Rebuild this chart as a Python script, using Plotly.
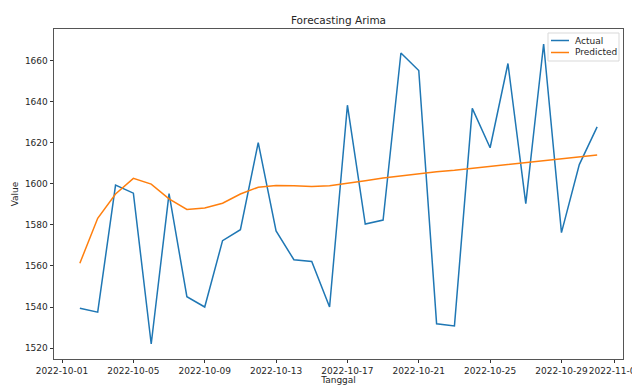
import plotly.graph_objects as go
import pandas as pd

dates = pd.date_range("2022-10-02", "2022-10-31", freq="D").strftime("%Y-%m-%d").tolist()

actual = [1539.4, 1537.5, 1599.3, 1595.4, 1522.0, 1595.2, 1545.0, 1540.0, 1572.3, 1577.6,
          1620.0, 1577.0, 1563.0, 1562.2, 1540.0, 1638.2, 1580.4, 1582.3, 1663.6, 1655.1,
          1531.8, 1530.8, 1636.7, 1617.5, 1658.5, 1590.3, 1668.0, 1576.2, 1609.3, 1627.7]

predicted = [1561.3, 1583.2, 1595.0, 1602.6, 1599.8, 1592.6, 1587.5, 1588.2, 1590.5, 1595.0,
             1598.3, 1599.1, 1599.0, 1598.7, 1599.0, 1600.1, 1601.5, 1602.8, 1603.9, 1605.0,
             1605.8, 1606.5, 1607.4, 1608.4, 1609.3, 1610.3, 1611.2, 1612.2, 1613.1, 1614.0]

x_tick_vals = ["2022-10-01", "2022-10-05", "2022-10-09", "2022-10-13", "2022-10-17",
               "2022-10-21", "2022-10-25", "2022-10-29", "2022-11-01"]
y_tick_vals = [1520, 1540, 1560, 1580, 1600, 1620, 1640, 1660]

series_names = ["Actual", "Predicted"]
series_colors = ["#1f77b4", "#ff7f0e"]

FONT = "DejaVu Sans"
TXT = "#262626"
W, H = 632, 385
ML, MR, MT, MB = 54, 9, 29, 26
PW, PH = W - ML - MR, H - MT - MB


def px_x(px):
    return (px - ML) / PW


def px_y(py):
    return 1 - (py - MT) / PH


fig = go.Figure()
for name, vals, col in zip(series_names, [actual, predicted], series_colors):
    fig.add_trace(go.Scatter(x=dates, y=vals, mode="lines", name=name,
                             line=dict(color=col, width=1.5), showlegend=False))

lo = min(min(actual), min(predicted))
hi = max(max(actual), max(predicted))
pad = (hi - lo) * 0.05
x0 = pd.Timestamp(dates[0])
x1 = pd.Timestamp(dates[-1])
xpad = (x1 - x0) * 0.05

shapes = [dict(type="rect", xref="paper", yref="paper",
               x0=px_x(548), x1=px_x(619), y0=px_y(61), y1=px_y(33),
               line=dict(color="#d9d9d9", width=1), fillcolor="rgba(255,255,255,0.8)",
               layer="above")]
annotations = []
for i, (name, col) in enumerate(zip(series_names, series_colors)):
    yy = 40.5 + 12 * i
    shapes.append(dict(type="line", xref="paper", yref="paper",
                       x0=px_x(551), x1=px_x(569), y0=px_y(yy), y1=px_y(yy),
                       line=dict(color=col, width=1.5), layer="above"))
    annotations.append(dict(text=name, xref="paper", yref="paper",
                            x=px_x(573), y=px_y(yy), xanchor="left", yanchor="middle",
                            showarrow=False, font=dict(family=FONT, size=9, color=TXT)))

fig.update_layout(
    width=W, height=H,
    margin=dict(l=ML, r=MR, t=MT, b=MB),
    paper_bgcolor="white", plot_bgcolor="white",
    font=dict(family=FONT, size=9, color=TXT),
    title=dict(text="Forecasting Arima", x=px_x(338.5) * PW / W + ML / W, xanchor="center",
               y=1 - 20 / H, yanchor="middle",
               font=dict(family=FONT, size=10.5, color=TXT)),
    showlegend=False,
    shapes=shapes,
    annotations=annotations,
)

fig.update_xaxes(
    range=[x0 - xpad, x1 + xpad],
    tickmode="array", tickvals=x_tick_vals, ticktext=x_tick_vals, tickangle=0,
    ticks="outside", ticklen=3.5, tickwidth=0.8, tickcolor="#333",
    showline=True, linecolor="#555", linewidth=0.8, mirror=True,
    showgrid=False, zeroline=False, automargin=False,
    ticklabeloverflow="allow",
    title=dict(text="Tanggal", standoff=2, font=dict(family=FONT, size=9, color=TXT)),
)
fig.update_yaxes(
    range=[lo - pad, hi + pad],
    tickmode="array", tickvals=y_tick_vals,
    ticks="outside", ticklen=3.5, tickwidth=0.8, tickcolor="#333",
    showline=True, linecolor="#555", linewidth=0.8, mirror=True,
    showgrid=False, zeroline=False, automargin=False,
    title=dict(text="Value", standoff=4, font=dict(family=FONT, size=9, color=TXT)),
)

fig.write_html("out.html")
